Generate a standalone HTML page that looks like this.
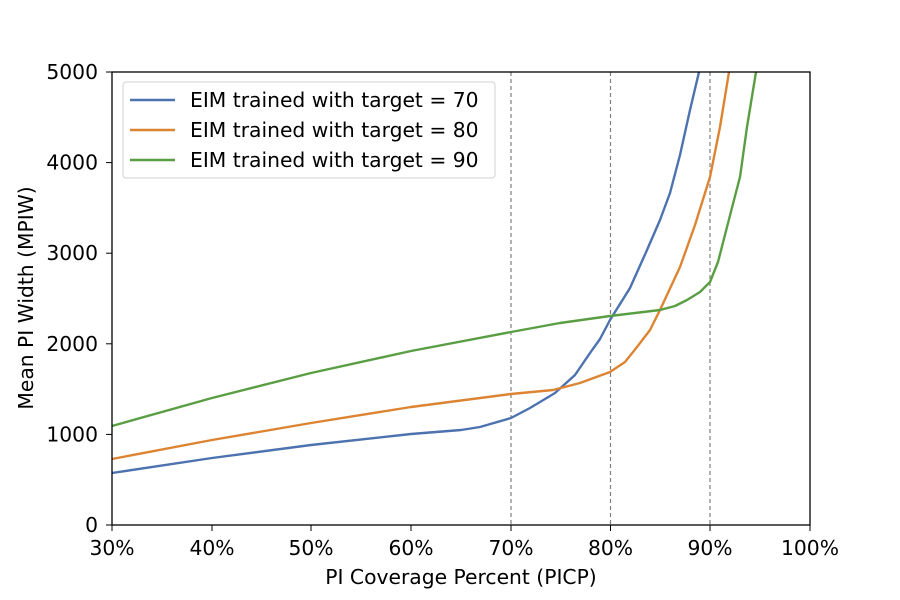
<!DOCTYPE html>
<html><head><style>body{margin:0;background:#fff}svg{display:block}text{font-family:"DejaVu Sans","Liberation Sans",sans-serif;fill:#000}</style></head><body>
<svg width="900" height="600" viewBox="0 0 900 600">
<rect width="900" height="600" fill="#fff"/>
<g stroke="#808080" stroke-width="1.2" stroke-dasharray="4,3">
<line x1="511" y1="72" x2="511" y2="525"/><line x1="610.5" y1="72" x2="610.5" y2="525"/><line x1="710" y1="72" x2="710" y2="525"/>
</g>
<g fill="none" stroke-width="2.4" stroke-linejoin="round">
<path stroke="#4c72b0" d="M112,473 L212,458 L311,445 L411,434 L461,430 L480,427 L511,418 L530,408 L555,393 L575,375 L590,353 L600,339 L610,320 L630,288 L647,250 L660,220 L670,193 L680,155 L690,110 L699,72"/>
<path stroke="#dd8433" d="M112,459 L212,440 L311,423 L411,407 L511,394 L553,390 L580,383 L610,372 L625,362 L637,347 L650,330 L660,310 L680,267 L695,225 L710,177 L720,127 L729,72"/>
<path stroke="#5a9e44" d="M112,426 L212,398 L311,373 L411,351 L511,332 L560,323 L610,316 L660,310 L675,306 L687,300 L700,292 L710,282 L718,262 L727,227 L734,200 L740,177 L747,127 L756,72"/>
</g>
<rect x="112" y="72" width="698" height="453" fill="none" stroke="#000" stroke-width="1.3"/>
<g stroke="#000" stroke-width="1">
<line x1="112" y1="525" x2="112" y2="531"/><line x1="212" y1="525" x2="212" y2="531"/><line x1="311" y1="525" x2="311" y2="531"/><line x1="411" y1="525" x2="411" y2="531"/><line x1="511" y1="525" x2="511" y2="531"/><line x1="610.5" y1="525" x2="610.5" y2="531"/><line x1="710" y1="525" x2="710" y2="531"/><line x1="810" y1="525" x2="810" y2="531"/>
<line x1="106" y1="525" x2="112" y2="525"/><line x1="106" y1="434.4" x2="112" y2="434.4"/><line x1="106" y1="343.8" x2="112" y2="343.8"/><line x1="106" y1="253.2" x2="112" y2="253.2"/><line x1="106" y1="162.6" x2="112" y2="162.6"/><line x1="106" y1="72" x2="112" y2="72"/>
</g>
<g font-size="20.3" text-anchor="middle">
<text x="112" y="555">30%</text><text x="212" y="555">40%</text><text x="311" y="555">50%</text><text x="411" y="555">60%</text><text x="511" y="555">70%</text><text x="610.5" y="555">80%</text><text x="710" y="555">90%</text><text x="810" y="555">100%</text>
</g>
<g font-size="20.3" text-anchor="end">
<text x="98" y="532">0</text><text x="98" y="441.4">1000</text><text x="98" y="350.8">2000</text><text x="98" y="260.2">3000</text><text x="98" y="169.6">4000</text><text x="98" y="79">5000</text>
</g>
<text x="461" y="584" font-size="20.3" text-anchor="middle">PI Coverage Percent (PICP)</text>
<text transform="translate(33,298) rotate(-90)" font-size="20.3" text-anchor="middle">Mean PI Width (MPIW)</text>
<rect x="123" y="82" width="372" height="96" rx="3" fill="#fff" fill-opacity="0.85" stroke="#d0d0d0" stroke-width="1"/>
<line x1="130" y1="100" x2="175" y2="100" stroke="#4c72b0" stroke-width="2.4"/>
<line x1="130" y1="130" x2="175" y2="130" stroke="#dd8433" stroke-width="2.4"/>
<line x1="130" y1="160" x2="175" y2="160" stroke="#5a9e44" stroke-width="2.4"/>
<g font-size="20.3"><text x="190" y="107">EIM trained with target = 70</text><text x="190" y="137">EIM trained with target = 80</text><text x="190" y="167">EIM trained with target = 90</text></g>
</svg>
</body></html>
